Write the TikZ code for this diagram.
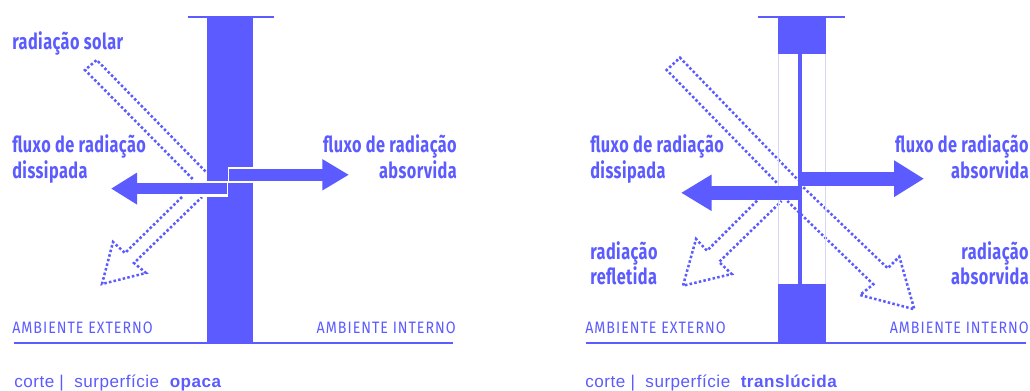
\documentclass[tikz,border=0pt]{standalone}
\usepackage{fontspec}
\usetikzlibrary{arrows.meta,positioning}
\newfontfamily\condfont[FakeStretch=0.74,LetterSpace=2]{Fira Sans}
\newfontfamily\ambfont[FakeStretch=0.86,LetterSpace=6]{Fira Sans}
\newfontfamily\capfont[LetterSpace=3]{Liberation Sans}
\definecolor{wallblue}{HTML}{5B5BFF}
\definecolor{paleblue}{HTML}{D6D6F8}
\tikzset{
  wall/.style={fill=wallblue,draw=none},
  floorline/.style={draw=wallblue,line width=1.7pt},
  ray/.style={draw=wallblue,line width=1.9pt,dash pattern=on 1.9pt off 1.65pt},
  flowlabel/.style={text=wallblue,font=\condfont\bfseries\fontsize{16.5}{18}\selectfont,inner sep=0pt,anchor=base west},
  flowlabelr/.style={flowlabel,anchor=base east},
  amblabel/.style={text=wallblue,font=\ambfont\fontsize{12.4}{14}\selectfont,inner sep=0pt,anchor=base west},
  amblabelr/.style={amblabel,anchor=base east},
  caplabel/.style={text=wallblue,font=\capfont\fontsize{12.8}{15}\selectfont,inner sep=0pt,anchor=base west},
  halo/.style={draw=white,line width=11pt},
  fatarrow/.style={draw=wallblue,line width=#1},
}
\begin{document}
\begin{tikzpicture}[x=0.75pt,y=-0.75pt]
            \useasboundingbox (0,0) rectangle (1030,391);
            % left panel
            \coordinate (a1) at (96.7,60);
            \coordinate (a2) at (85,70);
            \coordinate (a3) at (207,173);
            \coordinate (a4) at (192.7,179);
            \draw[ray] (a4) -- (a2) -- (a1) -- (a3);
            \draw[ray] (182,197) -- (125,253) -- (113,242) -- (102,284) -- (146,273) -- (134,263) -- (202,197);
            \fill[wall] (207,17) rectangle (252.5,343);
            \draw[floorline] (188,17) -- (274,17);
            \draw[floorline] (14,343) -- (453,343);
            \coordinate (b1) at (229,174.8);
            \coordinate (b2) at (349,174.8);
            \coordinate (c1) at (227,188.6);
            \coordinate (c2) at (111,188.6);
            \draw[halo,line width=11.6pt] (228,174.8) -- (252.5,174.8);
            \draw[halo,line width=12pt] (228.4,188.6) -- (200,188.6);
            \draw[fatarrow=8.7pt,-{Triangle[length=20pt,width=22pt]}] (b1) -- (b2);
            \draw[fatarrow=8.2pt,-{Triangle[length=19.5pt,width=22.5pt]}] (c1) -- (c2);
            \node[flowlabel] (solar) at (12,50) {radiação solar};
            \node[flowlabel] (diss1) at (12,153) {fluxo de radiação};
            \node[flowlabel] (diss2) at (12,179) {dissipada};
            \node[flowlabelr] (abs1) at (457,153) {fluxo de radiação};
            \node[flowlabelr] (abs2) at (457,179) {absorvida};
            \node[amblabel] (ext1) at (12,333) {AMBIENTE EXTERNO};
            \node[amblabelr] (int1) at (456,333) {AMBIENTE INTERNO};
            \node[caplabel] (cap1) at (14,387) {corte |\ \ surperfície\ \ {\bfseries opaca}};
            % right panel
            \coordinate (d1) at (680,57.7);
            \coordinate (d2) at (666.7,70);
            \coordinate (d3) at (798,180);
            \coordinate (d4) at (776.7,182.7);
            \draw[ray] (d4) -- (d2) -- (d1) -- (d3);
            \draw[ray] (757,200.7) -- (707,250.7) -- (696,239) -- (683,285.7) -- (731.7,274) -- (719,262) -- (781.7,201);
            \draw[ray] (803.3,187.3) -- (887.7,268.3) -- (899.3,256.7) -- (914.3,309.3) -- (860,295) -- (873.3,284.3) -- (787.3,201);
            \draw[paleblue,line width=0.8pt] (778.6,54) -- (778.6,284);
            \draw[paleblue,line width=0.8pt] (825.6,54) -- (825.6,284);
            \fill[wall] (778.3,17) rectangle (826,54);
            \fill[wall] (778.3,284) rectangle (826,343);
            \fill[wall] (798.3,54) rectangle (802.3,284);
            \draw[floorline] (758,17) -- (845,17);
            \draw[floorline] (586,343) -- (1026,343);
            \coordinate (e1) at (800.7,178.7);
            \coordinate (e2) at (924,178.7);
            \coordinate (f1) at (801.7,192.8);
            \coordinate (f2) at (681,192.8);
            \draw[fatarrow=10.5pt,-{Triangle[length=22.5pt,width=26pt]}] (e1) -- (e2);
            \draw[fatarrow=10.7pt,-{Triangle[length=23pt,width=25.7pt]}] (f1) -- (f2);
            \node[flowlabel] (diss3) at (590,153) {fluxo de radiação};
            \node[flowlabel] (diss4) at (590,179) {dissipada};
            \node[flowlabelr] (abs3) at (1029,153) {fluxo de radiação};
            \node[flowlabelr] (abs4) at (1029,179) {absorvida};
            \node[flowlabel] (ref1) at (590,260) {radiação};
            \node[flowlabel] (ref2) at (590,285) {refletida};
            \node[flowlabelr] (abs5) at (1029,260) {radiação};
            \node[flowlabelr] (abs6) at (1029,285) {absorvida};
            \node[amblabel] (ext2) at (585,333) {AMBIENTE EXTERNO};
            \node[amblabelr] (int2) at (1029,333) {AMBIENTE INTERNO};
            \node[caplabel] (cap2) at (585,387) {corte |\ \ surperfície\ \ {\bfseries translúcida}};
        \end{tikzpicture}
\end{document}
